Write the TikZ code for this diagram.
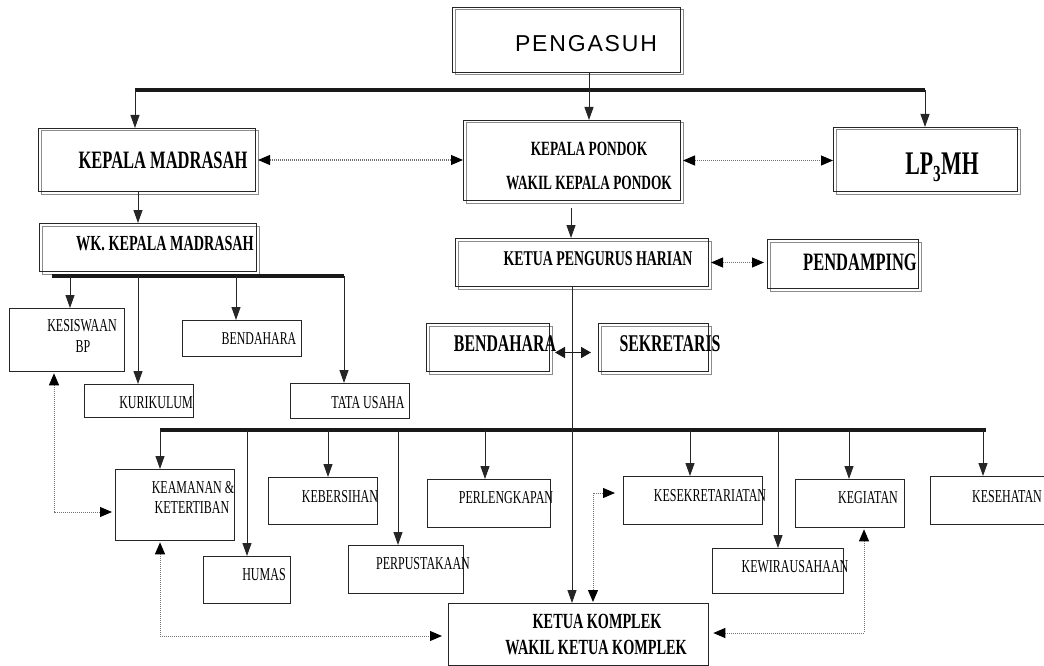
\documentclass[tikz,border=0pt]{standalone}
\usepackage{fontspec}
\usetikzlibrary{arrows.meta}
\newfontfamily\tms[FakeStretch=0.66]{Liberation Serif}
\newfontfamily\psans[LetterSpace=8]{Liberation Sans}
\newcommand\setfs[1]{\fontsize{#1}{#1}\selectfont}
\begin{document}
\begin{tikzpicture}[x=1pt,y=-1pt,
  dbox/.style={draw=black!85, line width=1pt, inner sep=0pt, anchor=north west,
     preaction={draw=black!45, line width=1pt, transform canvas={xshift=2.5pt,yshift=-2.5pt}}},
  sbox/.style={draw=black!85, line width=1.3pt, inner sep=0pt, anchor=north west},
  tb/.style={anchor=base, inner sep=0pt, font=\tms\bfseries\setfs{#1}},
  tr/.style={anchor=base, inner sep=0pt, font=\tms\setfs{#1}},
  bus/.style={line width=3.5pt, black!90},
  arr/.style={line width=1pt, black!85, -{Triangle[length=13pt,width=9pt]}},
  dd/.style={densely dotted, line width=1pt, draw=black!55,
     {Triangle[length=12pt,width=10pt,color=black]}-{Triangle[length=12pt,width=10pt,color=black]}},
  bb/.style={line width=1.6pt, black!90, {Triangle[length=10pt,width=11pt]}-{Triangle[length=10pt,width=11pt]}}
]
\useasboundingbox (0,0) rectangle (1044,666);
% ---------- boxes ----------
\node[dbox, minimum width=228pt, minimum height=65pt] (peng) at (452,7) {};
\node[dbox, minimum width=217pt, minimum height=63pt] (km) at (38,128) {};
\node[dbox, minimum width=217pt, minimum height=80pt] (kp) at (463,120) {};
\node[dbox, minimum width=184pt, minimum height=64pt] (lp) at (833,127) {};
\node[dbox, minimum width=217pt, minimum height=48pt] (wk) at (39,223) {};
\node[dbox, minimum width=253pt, minimum height=48pt] (kph) at (455,238) {};
\node[dbox, minimum width=151pt, minimum height=49pt] (pend) at (767,239) {};
\node[dbox, minimum width=123pt, minimum height=48pt] (ben2) at (426,323) {};
\node[dbox, minimum width=110pt, minimum height=48pt] (sek) at (598,323) {};
\node[sbox, minimum width=115pt, minimum height=63pt] (kes) at (9,308) {};
\node[sbox, minimum width=119pt, minimum height=36pt] (ben1) at (182,320) {};
\node[sbox, minimum width=109pt, minimum height=33pt] (kur) at (84,384) {};
\node[sbox, minimum width=119pt, minimum height=35pt] (tu) at (290,383) {};
\node[sbox, minimum width=119pt, minimum height=71pt] (keam) at (115,469) {};
\node[sbox, minimum width=87pt, minimum height=47pt] (hum) at (203,556) {};
\node[sbox, minimum width=109pt, minimum height=47pt] (keb) at (268,477) {};
\node[sbox, minimum width=115pt, minimum height=48pt] (perp) at (348,545) {};
\node[sbox, minimum width=123pt, minimum height=48pt] (perl) at (427,479) {};
\node[sbox, minimum width=260pt, minimum height=62pt] (kk) at (448,603) {};
\node[sbox, minimum width=139pt, minimum height=48pt] (ksek) at (623,476) {};
\node[sbox, minimum width=131pt, minimum height=45pt] (kwir) at (712,548) {};
\node[sbox, minimum width=109pt, minimum height=48pt] (kgt) at (795,479) {};
\node[sbox, minimum width=120pt, minimum height=48pt] (kseh) at (930,476) {};
% ---------- texts ----------
\node[anchor=base, inner sep=0pt, font=\psans\setfs{23}] (peng-t) at (586,52) {PENGASUH};
\node[tb=25] (km-t) at (163,168) {KEPALA MADRASAH};
\node[tb=21.5] (wk-t) at (165,250) {WK. KEPALA MADRASAH};
\node[tb=20.2] (kp-t1) at (589,156) {KEPALA PONDOK};
\node[tb=20.2] (kp-t2) at (589,189) {WAKIL KEPALA PONDOK};
\node[tb=33] (lp-t) at (942,175) {LP\textsubscript{3}MH};
\node[tb=21] (kph-t) at (598,265) {KETUA PENGURUS HARIAN};
\node[tb=25] (pend-t) at (860,270) {PENDAMPING};
\node[tb=24] (ben2-t) at (505,351) {BENDAHARA};
\node[tb=24] (sek-t) at (670,351) {SEKRETARIS};
\node[tr=18.2] (kes-t1) at (82,331) {KESISWAAN};
\node[tr=18.2] (kes-t2) at (83,352) {BP};
\node[tr=18] (ben1-t) at (259,344) {BENDAHARA};
\node[tr=18.2] (kur-t) at (156,408) {KURIKULUM};
\node[tr=18.2] (tu-t) at (368,408) {TATA USAHA};
\node[tr=18.2] (keam-t1) at (193,493) {KEAMANAN \&};
\node[tr=18.2] (keam-t2) at (192,513) {KETERTIBAN};
\node[tr=18.2] (hum-t) at (264,580) {HUMAS};
\node[tr=18.2] (keb-t) at (340,502) {KEBERSIHAN};
\node[tr=18.2] (perp-t) at (423,569) {PERPUSTAKAAN};
\node[tr=18.2] (perl-t) at (506,503) {PERLENGKAPAN};
\node[tr=18.2] (ksek-t) at (710,501) {KESEKRETARIATAN};
\node[tr=18.2] (kwir-t) at (795,572) {KEWIRAUSAHAAN};
\node[tr=18.2] (kgt-t) at (868,503) {KEGIATAN};
\node[tr=18.2] (kseh-t) at (1007,502) {KESEHATAN};
\node[tb=21.6] (kk-t1) at (597,628) {KETUA KOMPLEK};
\node[tb=21.6] (kk-t2) at (596,654) {WAKIL KETUA KOMPLEK};
% ---------- top bus ----------
\coordinate (t1) at (135,90);
\coordinate (t2) at (589,90);
\coordinate (t3) at (925,90);
\draw[bus] (t1) -- (t3);
\draw[arr] (t1) -- (t1 |- km.north);
\draw[arr] (peng.south -| t2) -- (t2 |- kp.north);
\draw[arr] (t3) -- (t3 |- lp.north);
% ---------- second level ----------
\coordinate (c1) at (138,0);
\draw[arr] (km.south -| c1) -- (c1 |- wk.north);
\coordinate (c2) at (571,0);
\draw[arr, shorten <=7pt] (kp.south -| c2) -- (c2 |- kph.north);
\draw[dd, shorten <=2pt] (km.east) -- (kp.west |- km.east);
\draw[dd, shorten <=2pt] (kp.east) -- (lp.west |- kp.east);
\draw[dd, shorten <=2pt, shorten >=3pt] (kph.east) -- (pend.west |- kph.east);
% ---------- WK bus ----------
\coordinate (w1) at (52,276);
\coordinate (w2) at (344,276);
\draw[bus] (w1) -- (w2);
\coordinate (d1) at (70,276);
\coordinate (d2) at (138,276);
\coordinate (d3) at (236,276);
\draw[arr] (d1) -- (d1 |- kes.north);
\draw[arr] (d2) -- (d2 |- kur.north);
\draw[arr] (d3) -- (d3 |- ben1.north);
\draw[arr] (w2) -- (w2 |- tu.north);
% ---------- bendahara <-> sekretaris ----------
\draw[bb, shorten <=5pt, shorten >=7pt] ([yshift=-5pt]ben2.east) -- ([yshift=-5pt]ben2.east -| sek.west);
% ---------- main bus ----------
\coordinate (m1) at (160,430);
\coordinate (m2) at (986,430);
\draw[bus] (m1) -- (m2);
\coordinate (v) at (572,0);
\draw[arr] (kph.south -| v) -- (v |- kk.north);
\coordinate (n2) at (247,430);
\coordinate (n3) at (328,430);
\coordinate (n4) at (398,430);
\coordinate (n5) at (485,430);
\coordinate (n6) at (690,430);
\coordinate (n7) at (778,430);
\coordinate (n8) at (849,430);
\coordinate (n9) at (983,430);
\draw[arr] (m1) -- (m1 |- keam.north);
\draw[arr] (n2) -- (n2 |- hum.north);
\draw[arr] (n3) -- (n3 |- keb.north);
\draw[arr] (n4) -- (n4 |- perp.north);
\draw[arr] (n5) -- (n5 |- perl.north);
\draw[arr] (n6) -- (n6 |- ksek.north);
\draw[arr] (n7) -- (n7 |- kwir.north);
\draw[arr] (n8) -- (n8 |- kgt.north);
\draw[arr] (n9) -- (n9 |- kseh.north);
% ---------- dotted links ----------
\coordinate (e1) at (54,512);
\draw[dd, shorten <=1pt, shorten >=3pt] (kes.south -| e1) |- (keam.west |- e1);
\coordinate (e2) at (160,636);
\draw[dd, shorten <=1pt, shorten >=6pt] (keam.south -| e2) |- (kk.west |- e2);
\coordinate (e3) at (593,493);
\draw[dd, shorten <=1pt, shorten >=8pt] (kk.north -| e3) |- (ksek.west |- e3);
\coordinate (e4) at (864,633);
\draw[dd, shorten <=1pt, shorten >=4pt] (kgt.south -| e4) |- (kk.east |- e4);
\end{tikzpicture}
\end{document}
